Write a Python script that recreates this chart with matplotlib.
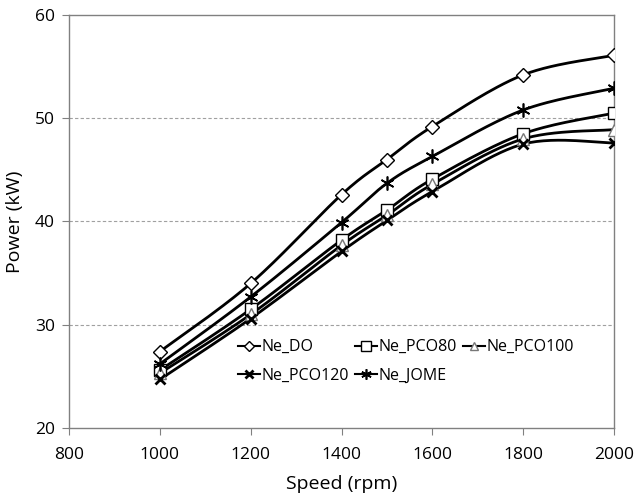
import numpy as np
import matplotlib
matplotlib.use("Agg")
from matplotlib import pyplot as plt

speed = [1000, 1200, 1400, 1500, 1600, 1800, 2000]
ne_do = [27.4, 34.0, 42.6, 46.0, 49.2, 54.2, 56.1]
ne_pco80 = [25.6, 31.5, 38.2, 41.1, 44.1, 48.5, 50.5]
ne_pco100 = [25.3, 31.0, 37.7, 40.6, 43.6, 48.0, 48.9]
ne_pco120 = [24.7, 30.6, 37.1, 40.1, 42.9, 47.5, 47.6]
ne_jome = [26.2, 32.7, 39.9, 43.7, 46.3, 50.8, 52.9]

plt.rcParams["font.family"] = ["Open Sans", "DejaVu Sans"]


def smooth(x, y, n=30):
    # Excel-like smoothed line (Catmull-Rom bezier through the points)
    x = np.asarray(x, float)
    y = np.asarray(y, float)
    px = np.concatenate([[x[0]], x, [x[-1]]])
    py = np.concatenate([[y[0]], y, [y[-1]]])
    xs, ys = [], []
    t = np.linspace(0, 1, n)
    for i in range(1, len(px) - 2):
        p0 = np.array([px[i], py[i]])
        p3 = np.array([px[i + 1], py[i + 1]])
        p1 = p0 + (np.array([px[i + 1], py[i + 1]]) - np.array([px[i - 1], py[i - 1]])) / 6
        p2 = p3 - (np.array([px[i + 2], py[i + 2]]) - np.array([px[i], py[i]])) / 6
        b = ((1 - t) ** 3)[:, None] * p0 + (3 * (1 - t) ** 2 * t)[:, None] * p1 \
            + (3 * (1 - t) * t ** 2)[:, None] * p2 + (t ** 3)[:, None] * p3
        xs.extend(b[:, 0])
        ys.extend(b[:, 1])
    return xs, ys


series = [
    ("Ne_DO", ne_do, dict(marker="D", markersize=7, mfc="white")),
    ("Ne_PCO80", ne_pco80, dict(marker="s", markersize=9, mfc="white")),
    ("Ne_PCO100", ne_pco100, dict(marker="^", markersize=8, mfc="white", mec="#777777")),
    ("Ne_PCO120", ne_pco120, dict(marker="x", markersize=7, mew=2)),
    ("Ne_JOME", ne_jome, dict(marker=(6, 2, 0), markersize=10, mew=1.2)),
]

fig = plt.figure(figsize=(6.36, 4.99), dpi=100)
ax = fig.add_axes([69 / 636, 1 - 428 / 499, (614 - 69) / 636, (428 - 15) / 499])

handles = {}
for label, vals, style in series:
    sx, sy = smooth(speed, vals)
    ax.plot(sx, sy, color="black", lw=2, zorder=2)
    mec = style.pop("mec", "black")
    ax.plot(speed, vals, ls="none", color="black", mec=mec, zorder=3, **style)
    small = {k: v for k, v in style.items() if k != "markersize"}
    handles[label], = ax.plot([], [], color="black", lw=1.5, label=label, mec=mec,
                              markersize=style["markersize"] * 0.75, **small)

ax.set_xlim(800, 2000)
ax.set_ylim(20, 60)
ax.set_xticks(range(800, 2001, 200))
ax.set_yticks(range(20, 61, 10))
for yv in [30, 40, 50]:
    ax.axhline(yv, color="#a0a0a0", lw=0.8, ls=(0, (3, 2)), zorder=1)
for s in ax.spines.values():
    s.set_color("#808080")
    s.set_linewidth(1)
ax.tick_params(direction="out", length=5, color="#808080", labelsize=12.5, pad=5)
ax.tick_params(axis="x", pad=9)
ax.set_xlabel("Speed (rpm)", fontsize=14, labelpad=8)
ax.set_ylabel("Power (kW)", fontsize=14, labelpad=8)

# column-wise order so rows read DO, PCO80, PCO100 / PCO120, JOME
order = ["Ne_DO", "Ne_PCO120", "Ne_PCO80", "Ne_JOME", "Ne_PCO100"]
ax.legend([handles[k] for k in order], order, loc="upper left",
          bbox_to_anchor=(0.31, 0.215), ncol=3, frameon=False,
          fontsize=11.5, handlelength=1.4, handletextpad=0.1, columnspacing=0.35,
          labelspacing=0.8, borderpad=0, borderaxespad=0)

fig.savefig("out.png", dpi=100)
